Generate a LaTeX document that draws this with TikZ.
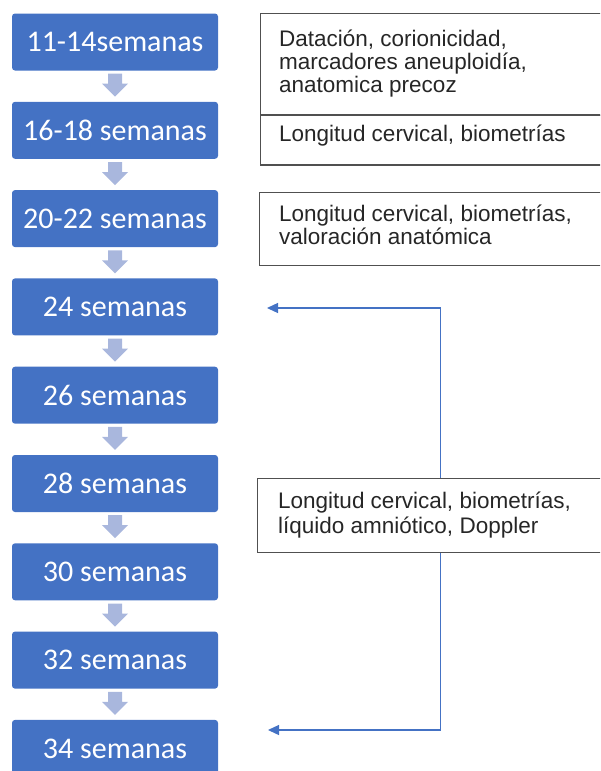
\documentclass[tikz,border=0pt]{standalone}
\usepackage{fontspec}
\setmainfont{Liberation Sans}
\newfontfamily\calib{Carlito}
\usetikzlibrary{arrows.meta,calc}
\definecolor{wblue}{HTML}{4472C4}
\definecolor{lblue}{HTML}{A9B7DD}
\definecolor{bord}{HTML}{505050}
\newcommand\flowarrow[1]{\fill[lblue,shift={($(#1.south)+(0,3)$)}] (-7,0) -- (7,0) -- (7,10) -- (13,10) -- (0,23) -- (-13,10) -- (-7,10) -- cycle;}
\begin{document}
\begin{tikzpicture}[x=1pt,y=-1pt,
  week/.style={fill=wblue, rounded corners=3pt, minimum width=206pt, minimum height=57pt, text=white, font=\calib\fontsize{30}{34}\selectfont, inner sep=0pt},
  infobox/.style={draw=bord, line width=1.2pt, anchor=north west, inner sep=0pt},
  infotext/.style={anchor=base west, align=left, text=black!85, inner sep=0pt},
  link/.style={draw=wblue, line width=1.3pt, -{Triangle[length=11pt,width=10pt]}}]
\useasboundingbox (0,0) rectangle (600,771);
\clip (0,0) rectangle (600,771);
\node[week] (b1) at (115,42) {11-14semanas};
\node[week] (b2) at (115,130.3) {16-18 semanas};
\node[week] (b3) at (115,218.6) {20-22 semanas};
\node[week] (b4) at (115,306.9) {24 semanas};
\node[week] (b5) at (115,395.2) {26 semanas};
\node[week] (b6) at (115,483.5) {28 semanas};
\node[week] (b7) at (115,571.8) {30 semanas};
\node[week] (b8) at (115,660.1) {32 semanas};
\node[week] (b9) at (115,748.4) {34 semanas};
\flowarrow{b1}\flowarrow{b2}\flowarrow{b3}\flowarrow{b4}
\flowarrow{b5}\flowarrow{b6}\flowarrow{b7}\flowarrow{b8}
\node[infobox, minimum width=360pt, minimum height=102pt] (iA) at (260,12.5) {};
\node[infobox, minimum width=360pt, minimum height=50pt] (iB) at (260,114.3) {};
\node[infobox, minimum width=360pt, minimum height=73pt] (iC) at (259,192) {};
\node[infobox, minimum width=366pt, minimum height=74pt] (iD) at (257,477.5) {};
\node[infotext, font=\fontsize{22.5}{23.3}\selectfont] (tA) at (279,92.7) {Datación, corionicidad,\\marcadores aneuploidía,\\anatomica precoz};
\node[infotext, font=\fontsize{22.5}{23.3}\selectfont] (tB) at (279,141.7) {Longitud cervical, biometrías};
\node[infotext, font=\fontsize{22.5}{23.5}\selectfont] (tC) at (279,244.5) {Longitud cervical, biometrías,\\valoración anatómica};
\node[infotext, font=\fontsize{22.5}{25}\selectfont] (tD) at (278,533.3) {Longitud cervical, biometrías,\\líquido amniótico, Doppler};
\coordinate (t1) at (267,308);
\coordinate (t2) at (268,730);
\draw[link] (iD.north) |- (t1);
\draw[link] (iD.south) |- (t2);
\end{tikzpicture}
\end{document}
